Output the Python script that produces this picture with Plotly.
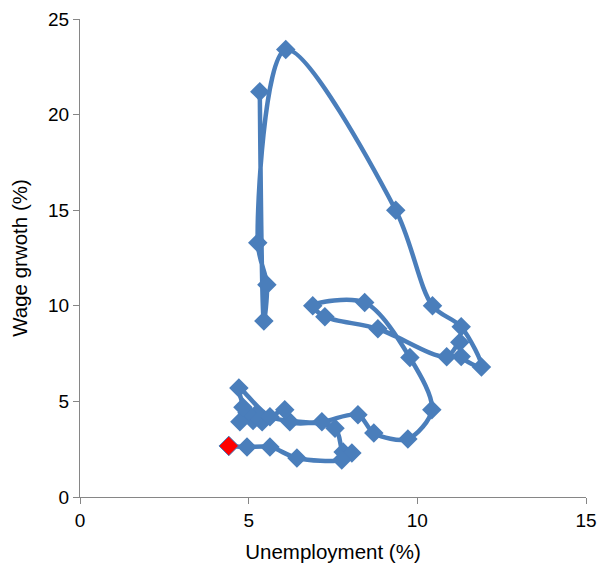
import plotly.graph_objects as go

# Unemployment (%) and wage growth (%), in path order
unemployment = [5.33, 5.45, 5.54, 5.27, 6.10, 9.36, 10.45, 11.30, 11.90, 11.30,
                11.26, 10.87, 8.83, 7.26, 6.90, 8.44, 9.78, 10.43, 9.72, 8.71,
                8.24, 7.17, 6.22, 6.07, 5.40, 5.13, 5.20, 4.95, 4.74, 4.83,
                4.71, 5.63, 7.56, 7.80, 8.06, 7.76, 6.43, 5.63, 4.95, 4.41]
wage_growth = [21.2, 9.2, 11.1, 13.3, 23.4, 15.0, 10.0, 8.9, 6.8, 7.35,
               8.1, 7.34, 8.8, 9.43, 10.0, 10.17, 7.29, 4.56, 3.04, 3.35,
               4.3, 3.93, 3.93, 4.56, 3.93, 4.0, 4.3, 4.4, 3.93, 4.7,
               5.7, 4.2, 3.6, 2.36, 2.3, 1.94, 2.04, 2.62, 2.62, 2.67]

x_ticks = [0, 5, 10, 15]
y_ticks = [0, 5, 10, 15, 20, 25]

blue = "#4a7ebb"
axis_grey = "#868686"
font_family = "Liberation Sans, Arial, sans-serif"

fig = go.Figure()
fig.add_trace(go.Scatter(
    x=unemployment, y=wage_growth, mode="lines+markers",
    line=dict(color=blue, width=4.5, shape="spline", smoothing=0.9),
    marker=dict(symbol="diamond", size=15, color=blue, line=dict(width=0)),
    showlegend=False, hoverinfo="x+y",
))
fig.add_trace(go.Scatter(
    x=unemployment[-1:], y=wage_growth[-1:], mode="markers",
    marker=dict(symbol="diamond", size=15, color="#ff0000",
                line=dict(width=1, color=blue)),
    showlegend=False, hoverinfo="x+y",
))

fig.update_layout(
    width=601, height=569,
    margin=dict(l=80, r=15, t=19, b=72, autoexpand=False),
    paper_bgcolor="white", plot_bgcolor="white",
    font=dict(family=font_family, color="#000000", size=19),
)
fig.update_xaxes(
    range=[0, 15], tickvals=x_ticks, ticks="outside", ticklen=6,
    tickcolor=axis_grey, showline=True, linecolor=axis_grey, linewidth=1.3,
    showgrid=False, zeroline=False, automargin=False,
    tickfont=dict(size=19, family=font_family),
    title=dict(text="Unemployment (%)", font=dict(size=20.5, family=font_family),
               standoff=14),
)
fig.update_yaxes(
    range=[0, 25], tickvals=y_ticks, ticks="outside", ticklen=6,
    tickcolor=axis_grey, showline=True, linecolor=axis_grey, linewidth=1.3,
    showgrid=False, zeroline=False, automargin=False,
    tickfont=dict(size=19, family=font_family),
    title=dict(text="Wage grwoth (%)", font=dict(size=20.5, family=font_family),
               standoff=14),
)

fig.write_html("out.html")
